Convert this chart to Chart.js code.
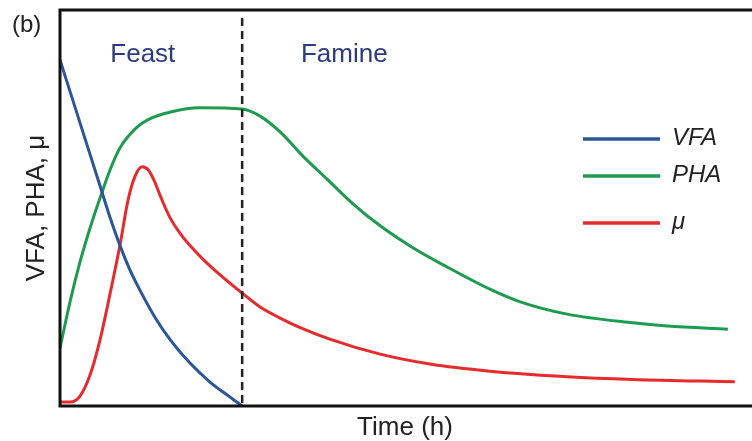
<!DOCTYPE html>
<html>
<head>
<meta charset="utf-8">
<script src="https://cdn.jsdelivr.net/npm/chart.js@4"></script>
<style>
  html, body { margin: 0; padding: 0; background: #fff; }
  #wrap { width: 752px; height: 441px; }
</style>
</head>
<body>
<div id="wrap"><canvas id="feastChart"></canvas></div>
<script>
// values (time in arbitrary units 0-100, y in arbitrary units 0-100)
const vfaTime = [0, 2.9, 5.8, 7.25, 8.7, 10.1, 11.6, 13.8, 15.9, 18.8, 21.7, 24.6, 26.4];
const vfaValues = [87.4, 71.5, 55.6, 47.6, 40.5, 34.5, 29.2, 22.3, 16.9, 10.9, 6.1, 2.3, 0];

const phaTime = [0, 1.45, 2.9, 4.35, 5.8, 7.25, 8.7, 10.9, 13.0, 15.9, 20.3, 26.4, 29.0, 31.9, 35.2, 38.7, 42.5, 46.4, 51.2, 56.1, 62.3, 66.7, 73.5, 83.0, 88.0, 96.8];
const phaValues = [14.6, 26.3, 36.4, 44.9, 52.5, 59.6, 65.2, 70.0, 72.5, 74.2, 75.3, 75.0, 73.2, 69.2, 63.1, 57.3, 51.0, 45.5, 39.9, 35.1, 29.5, 26.3, 23.2, 21.0, 20.2, 19.4];

const muTime = [0, 1.45, 2.9, 4.35, 5.8, 7.25, 8.7, 9.86, 10.9, 11.9, 12.8, 13.6, 14.6, 15.9, 17.7, 19.6, 21.0, 23.2, 26.4, 29.0, 31.9, 34.3, 39.1, 46.4, 53.6, 62.3, 73.5, 83.0, 97.8];
const muValues = [1.0, 1.0, 2.5, 7.8, 16.7, 28.3, 40.7, 52.0, 58.1, 60.4, 59.6, 57.1, 52.8, 47.7, 42.9, 39.1, 36.6, 33.1, 28.5, 25.0, 22.2, 20.2, 16.9, 13.1, 10.6, 8.8, 7.4, 6.7, 6.1];

const seriesLabels = ['VFA', 'PHA', 'μ'];
const seriesColors = ['#2c5697', '#1f9b50', '#e62b2e'];
const phaseLabels = ['Feast', 'Famine'];
const phaseLabelX = [12, 41.2];
const switchTime = 26.4;

const FONT = '"Liberation Sans", Arial, sans-serif';

function toPoints(xs, ys) {
  return xs.map((x, i) => ({ x: x, y: ys[i] }));
}

// box, dashed feast/famine divider, phase labels, legend, panel letter
const decorations = {
  id: 'decorations',
  afterDatasetsDraw(chart) {
    const ctx = chart.ctx;
    const area = chart.chartArea;
    const xs = chart.scales.x;
    const ys = chart.scales.y;
    ctx.save();

    // dashed divider
    const dx = xs.getPixelForValue(switchTime);
    ctx.strokeStyle = '#222';
    ctx.lineWidth = 2.5;
    ctx.setLineDash([8, 5]);
    ctx.beginPath();
    ctx.moveTo(dx, area.top + 8);
    ctx.lineTo(dx, area.bottom);
    ctx.stroke();
    ctx.setLineDash([]);

    // frame: top, left, bottom
    ctx.strokeStyle = '#111';
    ctx.lineWidth = 3;
    ctx.beginPath();
    ctx.moveTo(chart.width, area.top);
    ctx.lineTo(area.left, area.top);
    ctx.lineTo(area.left, area.bottom);
    ctx.lineTo(chart.width, area.bottom);
    ctx.stroke();

    // phase labels
    ctx.fillStyle = '#2c3a7e';
    ctx.font = '26px ' + FONT;
    ctx.textAlign = 'center';
    ctx.textBaseline = 'middle';
    phaseLabels.forEach((t, i) => {
      ctx.fillText(t, xs.getPixelForValue(phaseLabelX[i]), ys.getPixelForValue(88.6));
    });

    // legend
    const legendY = [139, 176, 223];
    ctx.font = 'italic 24px ' + FONT;
    ctx.textAlign = 'left';
    ctx.lineWidth = 3.5;
    chart.data.datasets.forEach((ds, i) => {
      ctx.strokeStyle = ds.borderColor;
      ctx.beginPath();
      ctx.moveTo(583, legendY[i]);
      ctx.lineTo(660, legendY[i]);
      ctx.stroke();
      ctx.fillStyle = '#222';
      ctx.fillText(ds.label, 672, legendY[i] - 1);
    });

    // panel letter
    ctx.font = '24px ' + FONT;
    ctx.fillStyle = '#222';
    ctx.fillText('(b)', 12, 25);

    ctx.restore();
  }
};

new Chart(document.getElementById('feastChart'), {
  type: 'line',
  data: {
    datasets: [
      { label: seriesLabels[0], data: toPoints(vfaTime, vfaValues), borderColor: seriesColors[0] },
      { label: seriesLabels[1], data: toPoints(phaTime, phaValues), borderColor: seriesColors[1] },
      { label: seriesLabels[2], data: toPoints(muTime, muValues), borderColor: seriesColors[2] }
    ]
  },
  options: {
    responsive: true,
    maintainAspectRatio: false,
    animation: false,
    layout: { padding: { left: 24, top: 10, right: 2, bottom: 0 } },
    elements: {
      point: { radius: 0 },
      line: { borderWidth: 3, cubicInterpolationMode: 'monotone', fill: false }
    },
    scales: {
      x: {
        type: 'linear',
        min: 0,
        max: 100,
        grid: { display: false, drawTicks: false },
        border: { display: false },
        ticks: { display: false },
        title: {
          display: true,
          text: 'Time (h)',
          color: '#222',
          font: { family: FONT, size: 26, lineHeight: 1 },
          padding: { top: 9, bottom: 0 }
        }
      },
      y: {
        min: 0,
        max: 100,
        grid: { display: false, drawTicks: false },
        border: { display: false },
        ticks: { display: false },
        title: {
          display: true,
          text: 'VFA, PHA, μ',
          color: '#222',
          font: { family: FONT, size: 26, lineHeight: 1 },
          padding: { top: 0, bottom: 10 }
        }
      }
    },
    plugins: {
      legend: { display: false },
      tooltip: { enabled: false }
    }
  },
  plugins: [decorations]
});
</script>
</body>
</html>
